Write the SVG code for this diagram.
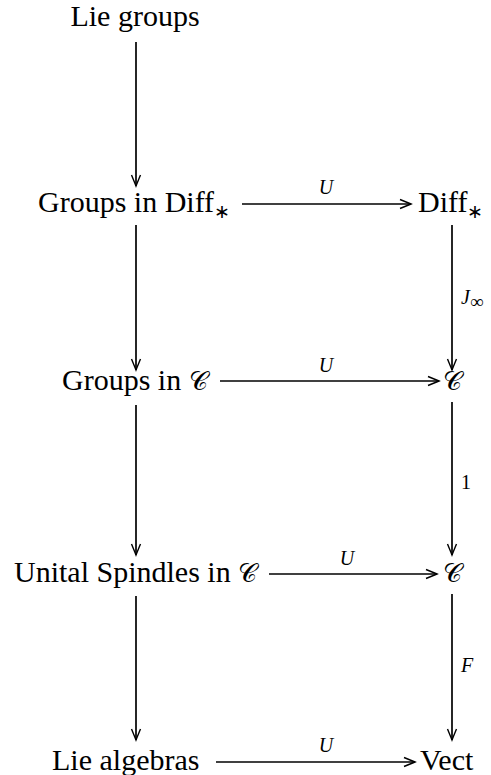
<svg xmlns="http://www.w3.org/2000/svg" width="491" height="775" viewBox="0 0 491 775" font-family="'Liberation Serif', 'Times New Roman', serif">
<style>
text{font-family:'Liberation Serif','Times New Roman',serif}
.n{font-size:30px;fill:#000}
.s{font-size:19px}
.l{font-size:20px;font-style:italic;fill:#000}
.r{font-style:normal}
.c{font-family:'DejaVu Serif','Liberation Serif',serif;font-size:26px}
.e{stroke:#000;stroke-width:1.7;fill:none;marker-end:url(#a)}
</style>
<defs>
<marker id="a" markerUnits="userSpaceOnUse" markerWidth="14" markerHeight="12" viewBox="-12 -6 14 12" refX="0" refY="0" orient="auto">
<path d="M-11,-4.5 Q-3,-1.2 0,0 Q-3,1.2 -11,4.5" stroke="#000" stroke-width="1.4" fill="none"/>
</marker>
</defs>
<g id="lie-groups"><text class="n" x="135" y="26" text-anchor="middle">Lie groups</text></g>
<g id="groups-diff"><text class="n" x="38" y="212">Groups in Diff<tspan class="s" dy="6">∗</tspan></text></g>
<g id="diff"><text class="n" x="418" y="212">Diff<tspan class="s" dy="6">∗</tspan></text></g>
<g id="groups-c"><text class="n" x="62" y="390">Groups in <tspan class="c">𝒞</tspan></text></g>
<g id="c1"><text class="n c" x="452" y="390" text-anchor="middle">𝒞</text></g>
<g id="spindles"><text class="n" x="14" y="582">Unital Spindles in <tspan class="c">𝒞</tspan></text></g>
<g id="c2"><text class="n c" x="452" y="582" text-anchor="middle">𝒞</text></g>
<g id="lie-algebras"><text class="n" x="52" y="770">Lie algebras</text></g>
<g id="vect"><text class="n" x="420" y="770">Vect</text></g>
<g id="connectors">
<line class="e" x1="136" y1="42" x2="136" y2="186"/>
<line class="e" x1="136" y1="225" x2="136" y2="370"/>
<line class="e" x1="136" y1="405" x2="136" y2="555"/>
<line class="e" x1="136" y1="596" x2="136" y2="740"/>
<line class="e" x1="452" y1="225" x2="452" y2="370"/>
<line class="e" x1="452" y1="402" x2="452" y2="555"/>
<line class="e" x1="452" y1="594" x2="452" y2="740"/>
<line class="e" x1="242" y1="204" x2="411" y2="204"/>
<line class="e" x1="220" y1="381" x2="439" y2="381"/>
<line class="e" x1="269" y1="574" x2="437" y2="574"/>
<line class="e" x1="216" y1="762" x2="415" y2="762"/>
<text class="l" x="326" y="194" text-anchor="middle">U</text>
<text class="l" x="326" y="372" text-anchor="middle">U</text>
<text class="l" x="347" y="565" text-anchor="middle">U</text>
<text class="l" x="326" y="752" text-anchor="middle">U</text>
<text class="l" x="461" y="304">J<tspan font-size="19" font-style="normal" dy="4">∞</tspan></text>
<text class="l r" x="461" y="489">1</text>
<text class="l" x="461" y="672">F</text>
</g>
</svg>
